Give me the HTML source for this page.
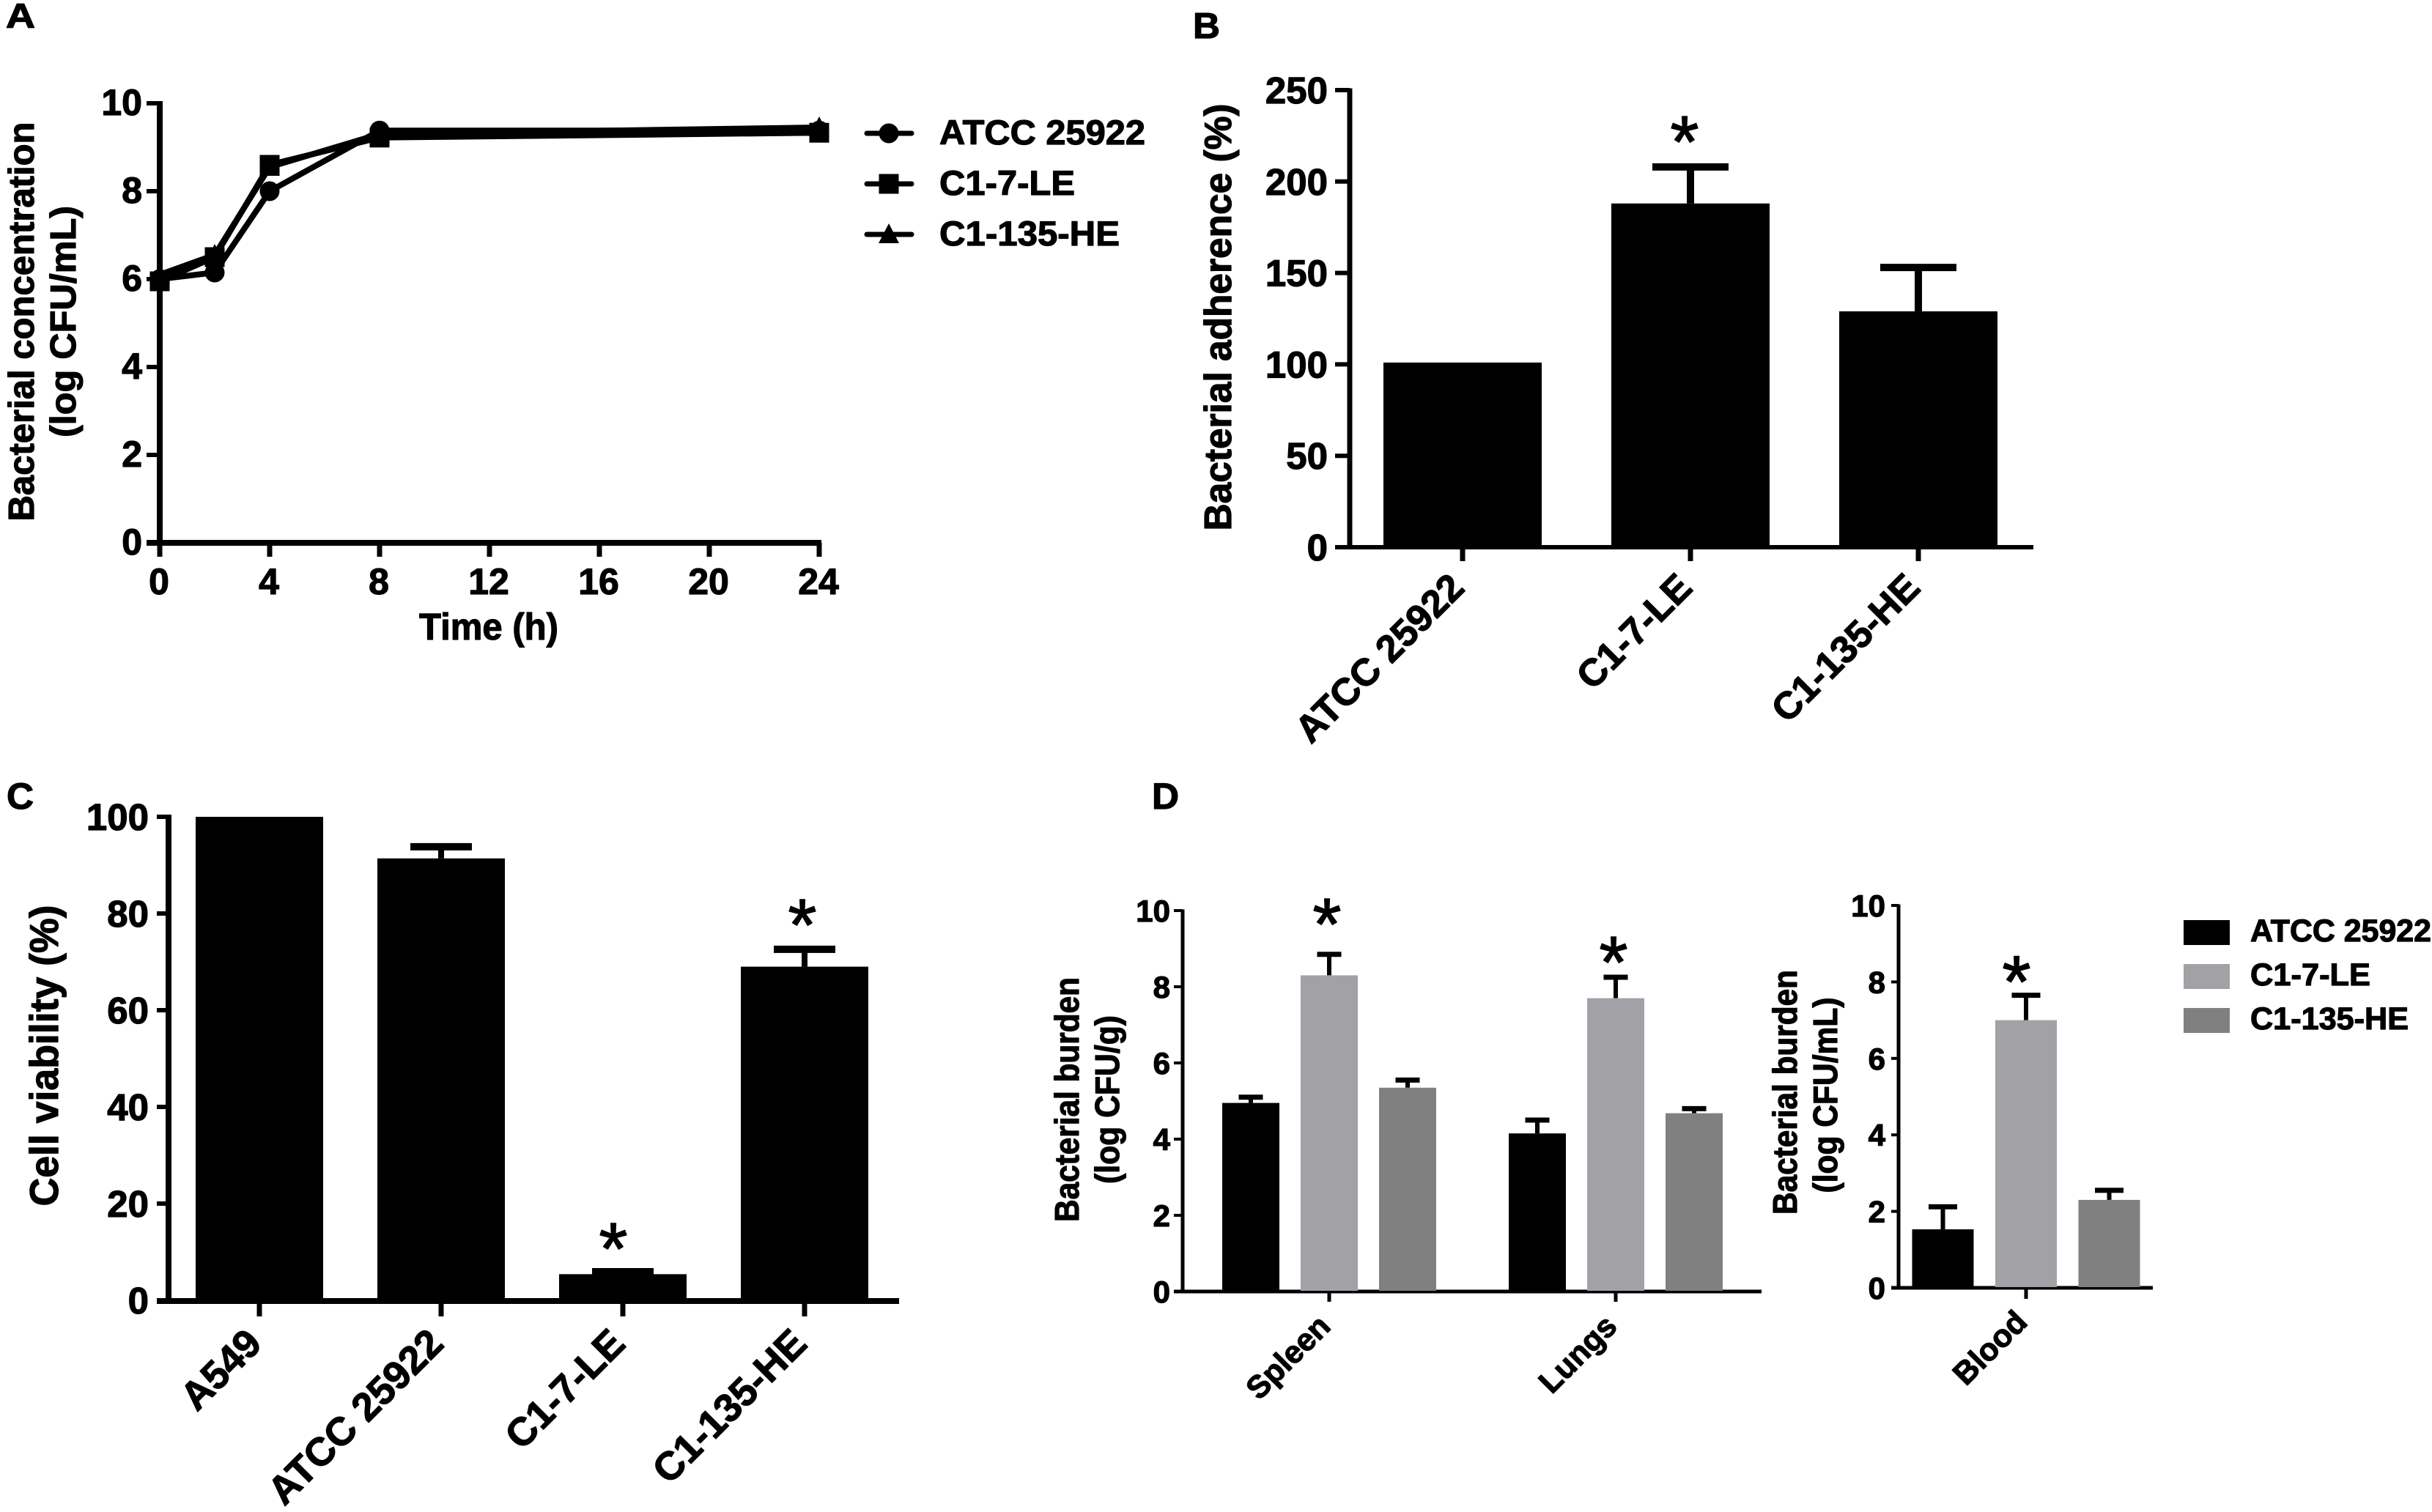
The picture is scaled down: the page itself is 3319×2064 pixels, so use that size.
<!DOCTYPE html>
<html lang="en">
<head>
<meta charset="utf-8">
<title>Bacterial strain panels A-D</title>
<style>
html,body{margin:0;padding:0;background:#fff;}
svg{display:block;}
text{font-family:"Liberation Sans",Arial,sans-serif;font-weight:bold;fill:#000;stroke:#000;stroke-width:1.2px;stroke-linejoin:round;}
</style>
</head>
<body>
<svg id="figure" xmlns="http://www.w3.org/2000/svg" width="3319" height="2064" viewBox="0 0 3319 2064">
<rect x="0" y="0" width="3319" height="2064" fill="#fff"/>
<text x="8" y="38" font-size="47" textLength="40" lengthAdjust="spacingAndGlyphs">A</text>
<text x="1628" y="52" font-size="49" textLength="37" lengthAdjust="spacingAndGlyphs">B</text>
<text x="9" y="1104" font-size="50" textLength="37" lengthAdjust="spacingAndGlyphs">C</text>
<text x="1572" y="1104" font-size="50" textLength="37" lengthAdjust="spacingAndGlyphs">D</text>

<text transform="translate(46 439) rotate(-90)" text-anchor="middle" font-size="49" textLength="545" lengthAdjust="spacingAndGlyphs">Bacterial concentration</text>
<text transform="translate(103 439) rotate(-90)" text-anchor="middle" font-size="49" textLength="316" lengthAdjust="spacingAndGlyphs">(log CFU/mL)</text>
<text x="667" y="873" text-anchor="middle" font-size="51" textLength="190" lengthAdjust="spacingAndGlyphs">Time (h)</text>

<text transform="translate(1680 433) rotate(-90)" text-anchor="middle" font-size="52" textLength="583" lengthAdjust="spacingAndGlyphs">Bacterial adherence (%)</text>
<text transform="translate(79 1441) rotate(-90)" text-anchor="middle" font-size="55" textLength="411" lengthAdjust="spacingAndGlyphs">Cell viability (%)</text>

<text transform="translate(1472 1501) rotate(-90)" text-anchor="middle" font-size="46" textLength="334" lengthAdjust="spacingAndGlyphs">Bacterial burden</text>
<text transform="translate(1527 1501) rotate(-90)" text-anchor="middle" font-size="46" textLength="230" lengthAdjust="spacingAndGlyphs">(log CFU/g)</text>
<text transform="translate(2452 1491) rotate(-90)" text-anchor="middle" font-size="46" textLength="334" lengthAdjust="spacingAndGlyphs">Bacterial burden</text>
<text transform="translate(2507 1495) rotate(-90)" text-anchor="middle" font-size="46" textLength="267" lengthAdjust="spacingAndGlyphs">(log CFU/mL)</text>
</svg>

<script>
// ---- Panel A data ----
const aTimes = [0, 2, 4, 8, 24];
const aAtcc = [6.0, 6.15, 8.0, 9.38, 9.38];
const aLe = [5.95, 6.5, 8.6, 9.22, 9.33];
const aHe = [6.1, 6.55, 8.55, 9.3, 9.45];
const aXTicks = [0, 4, 8, 12, 16, 20, 24];
const aYTicks = [0, 2, 4, 6, 8, 10];
const aLegendLabels = ['ATCC 25922', 'C1-7-LE', 'C1-135-HE'];

// ---- Panel B data ----
const bCategories = ['ATCC 25922', 'C1-7-LE', 'C1-135-HE'];
const bValues = [101, 188, 129];
const bUpper = [null, 208, 153];
const bStars = [null, 228, null];
const bYTicks = [0, 50, 100, 150, 200, 250];

// ---- Panel C data ----
const cCategories = ['A549', 'ATCC 25922', 'C1-7-LE', 'C1-135-HE'];
const cValues = [100, 91.4, 5.4, 69];
const cUpper = [null, 93.8, 5.9, 72.6];
const cStars = [null, null, 13, 80];
const cYTicks = [0, 20, 40, 60, 80, 100];

// ---- Panel D data ----
const dGroups = ['Spleen', 'Lungs'];
const dSeriesNames = ['ATCC 25922', 'C1-7-LE', 'C1-135-HE'];
const dSpleenValues = [4.95, 8.3, 5.35];
const dSpleenUpper = [5.1, 8.85, 5.55];
const dLungValues = [4.15, 7.7, 4.68];
const dLungUpper = [4.5, 8.25, 4.8];
const dGroupStars = [9.94, 8.94];
const dBloodLabel = ['Blood'];
const dBloodValues = [1.53, 7.0, 2.3];
const dBloodUpper = [2.12, 7.65, 2.55];
const dBloodStar = [8.3];
const dYTicks = [0, 2, 4, 6, 8, 10];

const NS = 'http://www.w3.org/2000/svg';
const svg = document.getElementById('figure');

function shape(tag, name, attrs) {
  const el = document.createElementNS(NS, tag);
  
  
  for (const k in attrs) el.setAttribute(k, attrs[k]);
  svg.appendChild(el);
  return el;
}
function line(name, x1, y1, x2, y2, w) {
  return shape('line', name, {x1, y1, x2, y2, stroke: '#000', 'stroke-width': w});
}
function label(name, str, attrs) {
  const el = shape('text', name, attrs);
  el.textContent = str;
  return el;
}
function scale(d0, d1, r0, r1) {
  return v => r0 + (v - d0) * (r1 - r0) / (d1 - d0);
}
function yAxis(p, y, ticks, cfg) {
  line(p + '-y-axis', cfg.x, y(ticks[ticks.length - 1]) - cfg.w / 2 + 1, cfg.x, y(0) + cfg.xw / 2, cfg.w);
  ticks.forEach(t => {
    line(p + '-y-tick-' + t, cfg.tickFrom, y(t), cfg.x, y(t), cfg.tw);
    label(p + '-y-tick-label-' + t, String(t), {
      x: cfg.labelEnd, y: y(t) + cfg.labelDy, 'text-anchor': 'end', 'font-size': cfg.fs
    });
  });
}
function star(p, x, y) {
  label(p, '*', {x, y: y + 50, 'text-anchor': 'middle', 'font-size': 100, style: 'font-weight:normal;stroke:#000;stroke-width:1.5px'});
}
function bar(p, cx, w, y, v, up, y0, fill, capW, stemW, capH) {
  if (up !== null) {
    line(p + '-error-stem', cx, y(up), cx, y(v), stemW);
    line(p + '-error-cap', cx - capW / 2, y(up), cx + capW / 2, y(up), capH);
  }
  shape('rect', p, {x: cx - w / 2, y: y(v), width: w, height: y0 - y(v), fill});
}
function rotatedTick(p, str, x, y, fs) {
  label(p, str, {
    transform: 'translate(' + x + ' ' + y + ') rotate(-45)',
    'text-anchor': 'end', 'font-size': fs
  });
}

// ===== Panel A =====
(function () {
  const x = scale(0, 24, 218, 1118);
  const y = scale(0, 10, 741, 141);
  yAxis('a', y, aYTicks, {x: 218, w: 8, xw: 8, tw: 6, tickFrom: 200, labelEnd: 194, labelDy: 16, fs: 50});
  line('a-x-axis', 200, y(0), x(24) + 3, y(0), 8);
  aXTicks.forEach(t => {
    line('a-x-tick-' + t, x(t), y(0), x(t), 760, 7);
    label('a-x-tick-label-' + t, String(t), {x: x(t) - 1, y: 811, 'text-anchor': 'middle', 'font-size': 50});
  });
  const series = [['atcc', aAtcc], ['le', aLe], ['he', aHe]];
  function marker(kind, name, mx, my) {
    if (kind === 'atcc') shape('circle', name, {cx: mx, cy: my, r: 13.5, fill: '#000'});
    else if (kind === 'le') shape('rect', name, {x: mx - 13.5, y: my - 13.5, width: 27, height: 27, fill: '#000'});
    else shape('polygon', name, {points: [mx, my - 15, mx + 14, my + 12, mx - 14, my + 12].join(' '), fill: '#000'});
  }
  series.forEach(([k, vals]) => {
    const pts = vals.map((v, i) => x(aTimes[i]) + ',' + y(v)).join(' ');
    shape('polyline', 'a-line-' + k, {points: pts, fill: 'none', stroke: '#000', 'stroke-width': 8});
    vals.forEach((v, i) => marker(k, 'a-point-' + k + '-' + aTimes[i], x(aTimes[i]), y(v)));
  });
  const legendLens = [281, 185, 246];
  series.forEach(([k], i) => {
    const ly = 182 + i * 69;
    shape('line', 'a-legend-line-' + k, {x1: 1183, y1: ly, x2: 1244, y2: ly, stroke: '#000', 'stroke-width': 7, 'stroke-linecap': 'round'});
    marker(k, 'a-legend-marker-' + k, 1213, ly);
    label('a-legend-label-' + k, aLegendLabels[i], {
      x: 1282, y: ly + 15, 'font-size': 47, textLength: legendLens[i], lengthAdjust: 'spacingAndGlyphs'
    });
  });
})();

// ===== Panel B =====
(function () {
  const y = scale(0, 250, 747, 123);
  const x = i => 1996 + i * 311;
  yAxis('b', y, bYTicks, {x: 1842, w: 7, xw: 6, tw: 6, tickFrom: 1822, labelEnd: 1812, labelDy: 18, fs: 51});
  line('b-x-axis', 1822, y(0), 2775, y(0), 6);
  bCategories.forEach((c, i) => {
    bar('b-bar-' + i, x(i), 216, y, bValues[i], bUpper[i], 747, '#000', 104, 10, 10);
    line('b-x-tick-' + i, x(i), y(0), x(i), 766, 7);
    rotatedTick('b-x-tick-label-' + i, c, x(i) + 5, 805, 52);
    if (bStars[i] !== null) star('b-star-' + i, x(i) - 8, y(bStars[i]));
  });
})();

// ===== Panel C =====
(function () {
  const y = scale(0, 100, 1775, 1115);
  const x = i => 354 + i * 248;
  yAxis('c', y, cYTicks, {x: 230, w: 8, xw: 8, tw: 6, tickFrom: 214, labelEnd: 203, labelDy: 18, fs: 51});
  line('c-x-axis', 214, y(0) + 1, 1227, y(0) + 1, 8);
  cCategories.forEach((c, i) => {
    bar('c-bar-' + i, x(i), 174, y, cValues[i], cUpper[i], 1775, '#000', 84, 8, 10);
    line('c-x-tick-' + i, x(i), y(0), x(i), 1797, 7);
    rotatedTick('c-x-tick-label-' + i, c, x(i) + 6, 1837, 54);
    if (cStars[i] !== null) star('c-star-' + i, x(i) + (i === 2 ? -13 : -3), y(cStars[i]));
  });
})();

// ===== Panel D =====
const dFills = ['#000000', '#a2a2a6', '#808080'];
(function () {
  const y = scale(0, 10, 1763, 1243);
  const gx = g => 1814 + g * 391;
  const bx = (g, j) => gx(g) + (j - 1) * 107;
  yAxis('d-left', y, dYTicks, {x: 1614, w: 5, xw: 5, tw: 4, tickFrom: 1602, labelEnd: 1597, labelDy: 15, fs: 42});
  line('d-left-x-axis', 1602, y(0), 2404, y(0), 5);
  const values = [dSpleenValues, dLungValues];
  const uppers = [dSpleenUpper, dLungUpper];
  dGroups.forEach((g, gi) => {
    dSeriesNames.forEach((s, j) => {
      bar('d-bar-' + g.toLowerCase() + '-' + j, bx(gi, j), 78, y, values[gi][j], uppers[gi][j], 1762, dFills[j], 33, 6, 7);
    });
    line('d-left-x-tick-' + gi, gx(gi), y(0), gx(gi), 1777, 5);
    rotatedTick('d-x-tick-label-' + g.toLowerCase(), g, gx(gi) + 4, 1813, 43);
    star('d-star-' + g.toLowerCase(), gx(gi) - 3, y(dGroupStars[gi]));
  });
})();
(function () {
  const y = scale(0, 10, 1758, 1236);
  const bx = j => 2765 + (j - 1) * 113.5;
  yAxis('d-right', y, dYTicks, {x: 2591, w: 5, xw: 5, tw: 4, tickFrom: 2581, labelEnd: 2573, labelDy: 15, fs: 42});
  line('d-right-x-axis', 2581, y(0), 2938, y(0), 5);
  dSeriesNames.forEach((s, j) => {
    bar('d-bar-blood-' + j, bx(j), 84, y, dBloodValues[j], dBloodUpper[j], 1757, dFills[j], 39, 6, 7);
  });
  line('d-right-x-tick', 2765, y(0), 2765, 1773, 5);
  rotatedTick('d-x-tick-label-blood', dBloodLabel[0], 2769, 1807, 43);
  star('d-star-blood', 2752, y(dBloodStar[0]));
  const legendLens = [247, 164, 216];
  dSeriesNames.forEach((s, j) => {
    const ly = 1273 + j * 60;
    shape('rect', 'd-legend-swatch-' + j, {x: 2980, y: ly - 17, width: 63, height: 34, fill: dFills[j]});
    label('d-legend-label-' + j, s, {
      x: 3071, y: ly + 12, 'font-size': 43, textLength: legendLens[j], lengthAdjust: 'spacingAndGlyphs'
    });
  });
})();
</script>
</body>
</html>
